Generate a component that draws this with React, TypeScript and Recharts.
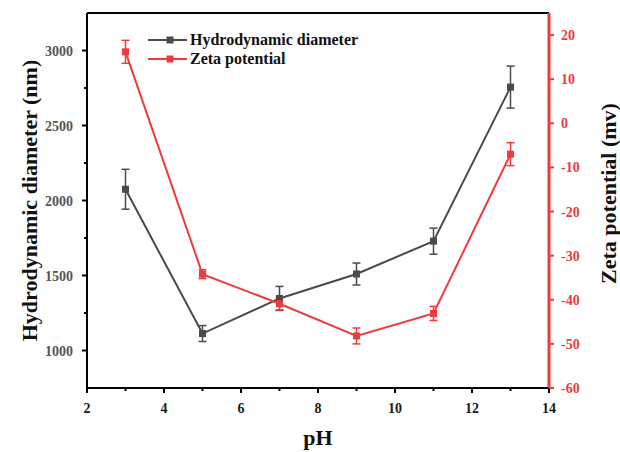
import React from 'react';
import { ComposedChart, Line, XAxis, YAxis, ErrorBar, ReferenceLine, Legend } from 'recharts';

const phValues = [3, 5, 7, 9, 11, 13];
const hydroDiameter = [2075, 1113, 1347, 1510, 1729, 2756];
const hydroError = [133, 53, 80, 73, 87, 140];
const zetaPotential = [16.2, -34.2, -40.9, -48.2, -43.1, -7.0];
const zetaError = [2.6, 1.0, 1.4, 1.8, 1.6, 2.6];

const xTicks = [2, 3, 4, 5, 6, 7, 8, 9, 10, 11, 12, 13, 14];
const xLabelTicks = [2, 4, 6, 8, 10, 12, 14];
const leftTicks = [1000, 1250, 1500, 1750, 2000, 2250, 2500, 2750, 3000];
const leftLabelTicks = [1000, 1500, 2000, 2500, 3000];
const rightTicks = [-60, -50, -40, -30, -20, -10, 0, 10, 20];

const seriesNames = ['Hydrodynamic diameter', 'Zeta potential'];
const axisTitles = { x: 'pH', left: 'Hydrodynamic diameter (nm)', right: 'Zeta potential (mv)' };

const GRAY = '#4a4a4a';
const RED = '#ee3b3d';
const FONT = "'Liberation Serif', 'Times New Roman', serif";

const data = phValues.map((ph, i) => ({
  ph,
  hd: hydroDiameter[i],
  hdErr: hydroError[i],
  zp: zetaPotential[i],
  zpErr: zetaError[i],
}));

const XTick = (props: any) => {
  const { x, y, payload } = props;
  const major = xLabelTicks.includes(payload.value);
  return (
    <g>
      <line x1={x} x2={x} y1={y} y2={y + (major ? 5 : 3)} stroke="#000" strokeWidth={2} />
      {major && (
        <text x={x} y={y + 25} textAnchor="middle" fontFamily={FONT} fontWeight="bold" fontSize={14} fill="#1a1a1a">
          {payload.value}
        </text>
      )}
    </g>
  );
};

const LeftTick = (props: any) => {
  const { x, y, payload } = props;
  const major = leftLabelTicks.includes(payload.value);
  return (
    <g>
      <line x1={x - (major ? 5 : 3)} x2={x} y1={y} y2={y} stroke="#000" strokeWidth={2} />
      {major && (
        <text x={x - 14} y={y + 5} textAnchor="end" fontFamily={FONT} fontWeight="bold" fontSize={14} fill="#555">
          {payload.value}
        </text>
      )}
    </g>
  );
};

const RightTick = (props: any) => {
  const { x, y, payload } = props;
  return (
    <g>
      <line x1={x} x2={x + 5} y1={y} y2={y} stroke={RED} strokeWidth={2} />
      <text x={x + 12} y={y + 5} textAnchor="start" fontFamily={FONT} fontWeight="bold" fontSize={14} fill={RED}>
        {payload.value}
      </text>
    </g>
  );
};

const squareDot = (color: string) => (props: any) => {
  const { cx, cy, index } = props;
  return <rect key={`d-${index}`} x={cx - 3.5} y={cy - 3.5} width={7} height={7} fill={color} />;
};

const LegendContent = () => (
  <div style={{ fontFamily: FONT, fontWeight: 'bold', fontSize: 16, color: '#111' }}>
    {seriesNames.map((name, i) => {
      const c = i === 0 ? GRAY : RED;
      return (
        <div key={name} style={{ display: 'flex', alignItems: 'center', height: 19 }}>
          <svg width={40} height={12} style={{ marginRight: 2 }}>
            <line x1={0} x2={39} y1={6} y2={6} stroke={c} strokeWidth={2} />
            <rect x={18.5} y={2.5} width={7} height={7} fill={c} />
          </svg>
          <span>{name}</span>
        </div>
      );
    })}
  </div>
);

export default function App() {
  return (
    <div style={{ position: 'absolute', left: 0, top: 0, width: 620, height: 452, background: '#fff' }}>
      <ComposedChart width={620} height={452} data={data} margin={{ top: 13, right: 0, left: 0, bottom: 0 }}>
        <XAxis
          dataKey="ph"
          type="number"
          domain={[2, 14]}
          ticks={xTicks}
          interval={0}
          height={64}
          tickSize={0}
          tickMargin={0}
          tick={<XTick />}
          axisLine={{ stroke: '#000', strokeWidth: 2 }}
          tickLine={false}
          label={{
            content: (p: any) => {
              const vb = p.viewBox;
              return (
                <text x={vb.x + vb.width / 2} y={vb.y + 57} textAnchor="middle" fontFamily={FONT} fontWeight="bold" fontSize={22} fill="#111">
                  {axisTitles.x}
                </text>
              );
            },
          }}
        />
        <YAxis
          yAxisId="left"
          orientation="left"
          domain={[750, 3250]}
          ticks={leftTicks}
          interval={0}
          width={87}
          tickSize={0}
          tickMargin={0}
          tick={<LeftTick />}
          tickLine={false}
          axisLine={{ stroke: '#000', strokeWidth: 2 }}
          label={{
            content: (p: any) => {
              const vb = p.viewBox;
              const cx = vb.x + 29;
              const cy = vb.y + vb.height / 2;
              return (
                <text x={cx} y={cy} transform={`rotate(-90 ${cx} ${cy})`} textAnchor="middle" dominantBaseline="central" fontFamily={FONT} fontWeight="bold" fontSize={22} fill="#111">
                  {axisTitles.left}
                </text>
              );
            },
          }}
        />
        <YAxis
          yAxisId="right"
          orientation="right"
          domain={[-60, 25]}
          ticks={rightTicks}
          interval={0}
          width={71}
          tickSize={0}
          tickMargin={0}
          tick={<RightTick />}
          tickLine={false}
          axisLine={{ stroke: RED, strokeWidth: 3 }}
          label={{
            content: (p: any) => {
              const vb = p.viewBox;
              const cx = vb.x + 59;
              const cy = vb.y + vb.height / 2 - 7;
              return (
                <text x={cx} y={cy} transform={`rotate(-90 ${cx} ${cy})`} textAnchor="middle" dominantBaseline="central" fontFamily={FONT} fontWeight="bold" fontSize={22} fill="#111">
                  {axisTitles.right}
                </text>
              );
            },
          }}
        />
        <ReferenceLine yAxisId="left" y={3250} stroke="#000" strokeWidth={2} />
        <Legend
          layout="horizontal"
          verticalAlign="middle"
          align="center"
          content={<LegendContent />}
          wrapperStyle={{ left: 148, top: 30, width: 260 }}
        />
        <Line
          yAxisId="left"
          dataKey="hd"
          name={seriesNames[0]}
          stroke={GRAY}
          strokeWidth={2}
          dot={squareDot(GRAY)}
          activeDot={false}
          isAnimationActive={false}
        >
          <ErrorBar dataKey="hdErr" direction="y" width={4} stroke={GRAY} strokeWidth={1.5} isAnimationActive={false} />
        </Line>
        <Line
          yAxisId="right"
          dataKey="zp"
          name={seriesNames[1]}
          stroke={RED}
          strokeWidth={2}
          dot={squareDot(RED)}
          activeDot={false}
          isAnimationActive={false}
        >
          <ErrorBar dataKey="zpErr" direction="y" width={4} stroke={RED} strokeWidth={1.5} isAnimationActive={false} />
        </Line>
      </ComposedChart>
    </div>
  );
}
